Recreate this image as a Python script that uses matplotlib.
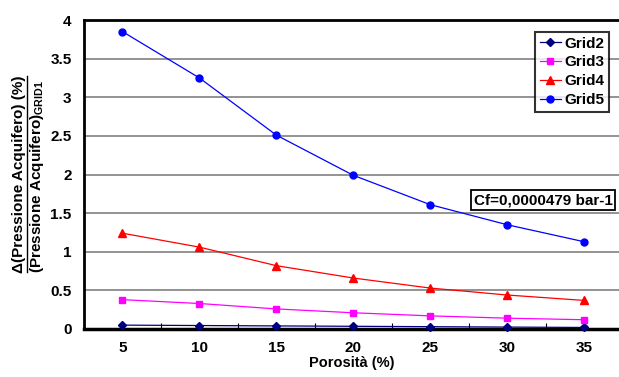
import matplotlib
matplotlib.use("Agg")
import matplotlib.pyplot as plt
from matplotlib.lines import Line2D

plt.rcParams['font.family'] = ['Liberation Sans', 'DejaVu Sans']
plt.rcParams['font.weight'] = 'bold'
plt.rcParams['mathtext.fontset'] = 'custom'
plt.rcParams['mathtext.rm'] = 'Liberation Sans:bold'
plt.rcParams['mathtext.default'] = 'rm'

porosita = ["5", "10", "15", "20", "25", "30", "35"]
grid2 = [0.05, 0.045, 0.04, 0.035, 0.03, 0.025, 0.02]
grid3 = [0.38, 0.33, 0.26, 0.21, 0.17, 0.14, 0.12]
grid4 = [1.24, 1.06, 0.82, 0.66, 0.53, 0.44, 0.37]
grid5 = [3.85, 3.25, 2.51, 1.99, 1.61, 1.35, 1.13]
yticks = [0, 0.5, 1, 1.5, 2, 2.5, 3, 3.5, 4]
ytick_labels = ["0", "0.5", "1", "1.5", "2", "2.5", "3", "3.5", "4"]

FS = 11
W, H = 619, 377
fig = plt.figure(figsize=(W/100, H/100), dpi=100)
ax = fig.add_axes([84/W, 1-329/H, 1-84/W, (329-20)/H])

x = list(range(len(porosita)))
series = [
    ("Grid2", grid2, "#000080", "D", 4.5),
    ("Grid3", grid3, "#FF00FF", "s", 4.5),
    ("Grid4", grid4, "#FF0000", "^", 5.5),
    ("Grid5", grid5, "#0000FF", "o", 5),
]
for name, vals, c, m, ms in series:
    ax.plot(x, vals, color=c, marker=m, markersize=ms, linewidth=0.9,
            label=name, markeredgecolor=c, markerfacecolor=c, clip_on=False, zorder=3)

ax.set_xlim(-0.5, 6.455)
ax.set_ylim(0, 4)
ax.set_yticks(yticks)
ax.set_yticklabels(ytick_labels, fontsize=FS, fontweight='bold')
ax.set_xticks(x)
ax.set_xticklabels(porosita, fontsize=FS, fontweight='bold')
ax.set_xticks([i - 0.5 for i in range(len(porosita))], minor=True)
ax.tick_params(axis='x', which='major', length=0, pad=9)
ax.tick_params(axis='x', which='minor', length=4, direction='in', width=0.8, color='black')
ax.tick_params(axis='y', length=0, pad=9)

ax.yaxis.grid(True, color='#808080', linewidth=1.2)
ax.set_axisbelow(True)
ax.spines['right'].set_visible(False)
ax.spines['top'].set_linewidth(2)
ax.spines['left'].set_linewidth(2)
ax.spines['bottom'].set_linewidth(2.5)

ax.set_xlabel("Porosità (%)", fontsize=10.5, fontweight='bold', labelpad=0.5)

# y label (fraction)
t1 = fig.text(19/W, 1-174/H, "Δ(Pressione Acquifero) (%)", rotation=90,
              ha='center', va='center', fontsize=FS, fontweight='bold')
t2 = fig.text(37/W, 1-177/H, r"(Pressione Acquifero)$_{\mathrm{GRID1}}$", rotation=90,
              ha='center', va='center', fontsize=FS, fontweight='bold')
fig.canvas.draw()
r = fig.canvas.get_renderer()
bb = t1.get_window_extent(r)
inv = fig.transFigure.inverted()
(x0, y0), (x1, y1) = inv.transform([(bb.x0, bb.y0), (bb.x1, bb.y1)])
ux = 27/W
fig.add_artist(Line2D([ux, ux], [y0 + 1/H, y1 - 1/H], transform=fig.transFigure,
                      color='black', linewidth=1.0))

leg = ax.legend(loc='upper left', bbox_to_anchor=(535/W, 1-32/H), bbox_transform=fig.transFigure,
                prop={'weight': 'bold', 'size': FS}, frameon=True, fancybox=False,
                handlelength=1.4, handletextpad=0.2, borderpad=0.3, labelspacing=0.32,
                borderaxespad=0)
leg.get_frame().set_edgecolor('black')
leg.get_frame().set_linewidth(1.5)

fig.text(543/W, 1-200/H, "Cf=0,0000479 bar-1", ha='center', va='center', fontsize=FS,
         fontweight='bold',
         bbox=dict(boxstyle='square,pad=0.2', facecolor='white', edgecolor='black', linewidth=1.3))
# shadow
fig.patches.append(plt.Rectangle((475/W, 1-216/H), 143/W, 26/H, transform=fig.transFigure,
                                 facecolor='black', edgecolor='none', zorder=-1))

fig.savefig("out.png", dpi=100)
